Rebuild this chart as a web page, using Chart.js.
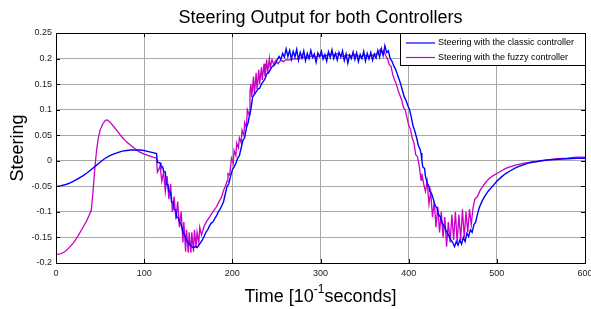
<!DOCTYPE html>
<html>
<head>
<meta charset="utf-8">
<script src="https://cdn.jsdelivr.net/npm/chart.js@4.4.1/dist/chart.umd.min.js"></script>
<style>
  body { margin: 0; background: #fff; }
  #wrap { width: 591px; height: 309px; }
</style>
</head>
<body>
<div id="wrap"><canvas id="mycanvas" width="591" height="309"></canvas></div>
<script>
// values (time in 10^-1 s, steering)
var classicTime = [0,5,10,15,20,25,30,35,40,45,50,55,60,65,70,75,80,85,90,95,100,105,110,114,
  115,118,119,121,122,124,125,127,128,130,131,133,134,136,137,139,140,142,144,146,148,150,152,154,156,158,160,
  162,164,166,168,170,172,174,176,178,180,182,184,186,188,190,192,194,196,198,200,202,204,206,208,210,
  212,214,216,218,219,221,223,225,227,229,231,233,235,237,239,241,243,245,247,249,251,
  253,255,257,259,261,263,265,267,269,271,273,275,277,279,281,283,285,287,289,291,293,295,297,299,
  301,303,305,307,309,311,313,315,317,319,321,323,325,327,329,331,333,335,337,339,341,343,345,347,349,
  351,353,355,357,359,361,363,365,367,369,371,373,375,377,379,381,383,385,387,389,391,393,395,397,399,
  401,403,405,407,409,411,413,414,415,416,418,419,421,423,424,426,428,430,432,434,436,438,440,442,444,
  446,448,450,452,454,456,458,460,462,464,466,468,470,472,474,476,478,480,483,486,490,495,500,505,510,
  515,520,525,530,535,540,545,550,560,570,580,590,600];
var classicSteering = [-0.05,-0.049,-0.047,-0.044,-0.04,-0.035,-0.03,-0.024,-0.017,-0.01,-0.003,0.004,0.009,0.013,0.016,0.019,0.02,0.021,0.021,0.021,0.02,0.018,0.016,0.014,
  -0.003,-0.004,-0.01,-0.012,-0.02,-0.022,-0.045,-0.047,-0.06,-0.062,-0.08,-0.082,-0.095,-0.097,-0.11,-0.112,-0.12,-0.125,-0.14,-0.145,-0.155,-0.16,-0.165,-0.168,-0.17,-0.168,-0.17,
  -0.165,-0.16,-0.155,-0.148,-0.14,-0.135,-0.128,-0.122,-0.12,-0.113,-0.108,-0.1,-0.095,-0.088,-0.08,-0.065,-0.05,-0.045,-0.03,-0.018,-0.012,-0.005,0.005,0.01,0.025,
  0.04,0.045,0.065,0.075,0.085,0.1,0.125,0.13,0.135,0.14,0.142,0.15,0.155,0.16,0.17,0.172,0.178,0.184,0.186,0.19,0.198,
  0.204,0.198,0.21,0.203,0.219,0.204,0.216,0.199,0.214,0.203,0.218,0.197,0.212,0.201,0.215,0.196,0.21,0.2,0.216,0.202,0.209,0.193,0.211,0.204,
  0.214,0.199,0.208,0.195,0.213,0.202,0.217,0.2,0.21,0.197,0.212,0.203,0.215,0.196,0.209,0.191,0.207,0.2,0.213,0.198,0.211,0.194,0.208,0.2,0.214,
  0.195,0.21,0.199,0.212,0.197,0.209,0.201,0.216,0.203,0.219,0.206,0.225,0.212,0.215,0.2,0.195,0.186,0.18,0.17,0.16,0.15,0.137,0.125,0.118,0.108,
  0.1,0.085,0.068,0.058,0.045,0.03,0.022,0.015,0.0,-0.012,-0.015,-0.03,-0.044,-0.05,-0.06,-0.064,-0.075,-0.088,-0.092,-0.105,-0.11,-0.122,-0.128,-0.135,-0.142,
  -0.148,-0.155,-0.16,-0.168,-0.158,-0.165,-0.155,-0.163,-0.15,-0.158,-0.142,-0.148,-0.135,-0.14,-0.125,-0.12,-0.105,-0.092,-0.08,-0.07,-0.06,-0.05,-0.04,-0.032,-0.025,
  -0.02,-0.015,-0.011,-0.008,-0.005,-0.003,-0.002,0.0,0.002,0.003,0.004,0.005,0.005];

var fuzzyTime = [0,5,10,15,20,25,30,35,40,42,44,46,48,50,53,56,58,61,65,70,75,80,85,90,95,100,105,110,114,
  115,117,118,120,122,124,126,128,130,132,134,136,138,140,142,144,145,147,148,150,151,153,154,156,157,159,160,162,163,165,
  168,171,175,178,182,185,188,190,192,194,195,197,199,201,202,204,205,207,208,210,211,213,214,216,217,219,220,221,222,224,
  225,227,228,230,231,233,234,236,237,239,240,242,243,245,247,249,252,255,258,261,265,270,275,280,285,290,295,300,
  305,310,315,320,325,330,335,340,345,350,355,360,365,368,370,372,374,376,378,380,382,384,386,388,390,392,394,396,398,
  400,402,404,406,408,410,412,414,415,417,419,421,423,425,427,429,431,433,435,437,439,441,443,445,447,449,451,453,455,
  457,459,461,463,465,467,469,471,473,475,478,481,484,487,490,495,500,505,510,520,530,540,550,560,570,580,590,600];
var fuzzySteering = [-0.183,-0.182,-0.178,-0.17,-0.16,-0.147,-0.132,-0.117,-0.097,-0.06,-0.015,0.02,0.045,0.06,0.072,0.079,0.08,0.076,0.068,0.057,0.046,0.037,0.03,0.023,0.017,0.013,0.01,0.007,0.005,
  -0.022,-0.015,-0.01,-0.04,-0.022,-0.06,-0.03,-0.075,-0.045,-0.1,-0.07,-0.115,-0.08,-0.13,-0.1,-0.16,-0.12,-0.178,-0.135,-0.18,-0.14,-0.18,-0.14,-0.178,-0.135,-0.17,-0.14,-0.16,-0.13,-0.145,
  -0.128,-0.118,-0.108,-0.1,-0.09,-0.08,-0.07,-0.058,-0.05,-0.04,-0.025,-0.028,0.005,-0.005,0.02,0.01,0.035,0.025,0.045,0.035,0.06,0.05,0.075,0.065,0.1,0.09,0.135,0.15,0.125,0.165,
  0.13,0.172,0.14,0.178,0.15,0.183,0.158,0.19,0.165,0.198,0.172,0.2,0.182,0.198,0.188,0.196,0.19,0.197,0.194,0.198,0.197,0.2,0.199,0.203,0.201,0.205,0.203,0.206,
  0.205,0.209,0.207,0.21,0.204,0.207,0.205,0.208,0.203,0.206,0.204,0.207,0.21,0.218,0.212,0.215,0.205,0.2,0.188,0.185,0.168,0.158,0.15,0.138,0.128,0.12,0.105,0.1,0.085,
  0.07,0.062,0.045,0.035,0.012,0.008,-0.01,-0.038,-0.025,-0.045,-0.06,-0.04,-0.085,-0.06,-0.11,-0.08,-0.13,-0.09,-0.14,-0.1,-0.15,-0.11,-0.168,-0.12,-0.16,-0.105,-0.155,-0.1,-0.16,
  -0.105,-0.155,-0.095,-0.15,-0.1,-0.14,-0.095,-0.125,-0.092,-0.075,-0.07,-0.058,-0.05,-0.043,-0.037,-0.03,-0.025,-0.02,-0.015,-0.009,-0.005,-0.002,0.0,0.002,0.004,0.005,0.007,0.007];

var xTicks = [0, 100, 200, 300, 400, 500, 600];
var yTicks = [-0.2, -0.15, -0.1, -0.05, 0, 0.05, 0.1, 0.15, 0.2, 0.25];
var seriesNames = ['Steering with the classic controller', 'Steering with the fuzzy controller'];
var seriesColors = ['#0000ff', '#c800c8'];

function toPoints(xs, ys) {
  var pts = [];
  for (var i = 0; i < xs.length; i++) pts.push({x: xs[i], y: ys[i]});
  return pts;
}

var FONT = '"Liberation Sans", Arial, sans-serif';

/* titles, box, inner tick marks and legend drawn like the matlab figure */
var figurePlugin = {
  id: 'figure',
  afterDraw: function(chart) {
    var c = chart.ctx, a = chart.chartArea;
    var xs = chart.scales.x, ys = chart.scales.y;
    c.save();
    // box
    c.strokeStyle = '#000';
    c.lineWidth = 1;
    c.strokeRect(Math.round(a.left) + 0.5, Math.round(a.top) + 0.5, Math.round(a.right - a.left), Math.round(a.bottom - a.top));
    // inner tick marks
    c.beginPath();
    xTicks.forEach(function(v) {
      var px = Math.round(xs.getPixelForValue(v)) + 0.5;
      c.moveTo(px, a.bottom); c.lineTo(px, a.bottom - 4);
      c.moveTo(px, a.top); c.lineTo(px, a.top + 4);
    });
    yTicks.forEach(function(v) {
      var py = Math.round(ys.getPixelForValue(v)) + 0.5;
      c.moveTo(a.left, py); c.lineTo(a.left + 4, py);
      c.moveTo(a.right, py); c.lineTo(a.right - 4, py);
    });
    c.stroke();

    // title
    c.fillStyle = '#000';
    c.font = '18px ' + FONT;
    c.textAlign = 'center';
    c.textBaseline = 'alphabetic';
    c.fillText('Steering Output for both Controllers', (a.left + a.right) / 2, 23);

    // y title
    c.save();
    c.translate(23, (a.top + a.bottom) / 2);
    c.rotate(-Math.PI / 2);
    c.fillText('Steering', 0, 0);
    c.restore();

    // x title with superscript
    var p1 = 'Time [10', sup = '-1', p2 = 'seconds]';
    c.font = '18px ' + FONT;
    var w1 = c.measureText(p1).width, w2 = c.measureText(p2).width;
    c.font = '12px ' + FONT;
    var ws = c.measureText(sup).width;
    var x0 = (a.left + a.right) / 2 - (w1 + ws + w2) / 2;
    c.textAlign = 'left';
    c.font = '18px ' + FONT;
    c.fillText(p1, x0, 302);
    c.font = '12px ' + FONT;
    c.fillText(sup, x0 + w1, 293);
    c.font = '18px ' + FONT;
    c.fillText(p2, x0 + w1 + ws, 302);

    // legend
    var lx = 400, ly = 33, lw = Math.round(a.right) - lx, lh = 32;
    c.fillStyle = '#fff';
    c.fillRect(lx, ly, lw, lh);
    c.strokeStyle = '#000';
    c.lineWidth = 1;
    c.strokeRect(lx + 0.5, ly + 0.5, lw, lh);
    c.font = '9px ' + FONT;
    c.textBaseline = 'middle';
    for (var i = 0; i < seriesNames.length; i++) {
      var yy = ly + 10 + i * 14.5;
      c.strokeStyle = seriesColors[i];
      c.lineWidth = 1.2;
      c.beginPath();
      c.moveTo(406, yy); c.lineTo(435, yy);
      c.stroke();
      c.fillStyle = '#000';
      c.fillText(seriesNames[i], 438, yy);
    }
    c.restore();
  }
};

var ctx = document.getElementById('mycanvas');

var chart = new Chart(ctx, {
  type: 'line',
  data: {
    datasets: [
      {
        label: seriesNames[0],
        data: toPoints(classicTime, classicSteering),
        borderColor: seriesColors[0],
        borderWidth: 1.4,
        pointRadius: 0,
        tension: 0,
        fill: false
      },
      {
        label: seriesNames[1],
        data: toPoints(fuzzyTime, fuzzySteering),
        borderColor: seriesColors[1],
        borderWidth: 1.3,
        pointRadius: 0,
        tension: 0,
        fill: false
      }
    ]
  },
  options: {
    responsive: false,
    animation: false,
    layout: { padding: { left: 0, right: 6, top: 33, bottom: 0 } },
    plugins: {
      legend: { display: false },
      title: { display: false },
      tooltip: { enabled: false }
    },
    scales: {
      x: {
        type: 'linear',
        min: 0,
        max: 600,
        afterBuildTicks: function(s) { s.ticks = xTicks.map(function(v) { return {value: v}; }); },
        afterFit: function(s) { s.height = 46; s.paddingLeft = 0; s.paddingRight = 0; },
        ticks: { color: '#222', font: { family: FONT, size: 9 }, padding: 5, maxRotation: 0 },
        grid: { color: '#a8a8a8', drawTicks: false },
        border: { color: '#000' }
      },
      y: {
        min: -0.2,
        max: 0.25,
        afterBuildTicks: function(s) { s.ticks = yTicks.map(function(v) { return {value: v}; }); },
        afterFit: function(s) { s.width = 56; s.paddingTop = 0; s.paddingBottom = 0; },
        ticks: {
          color: '#222',
          font: { family: FONT, size: 9 },
          padding: 4,
          callback: function(v) { return String(parseFloat(Number(v).toFixed(2))); }
        },
        grid: { color: '#a8a8a8', drawTicks: false },
        border: { color: '#000' }
      }
    }
  },
  plugins: [figurePlugin]
});
</script>
</body>
</html>
